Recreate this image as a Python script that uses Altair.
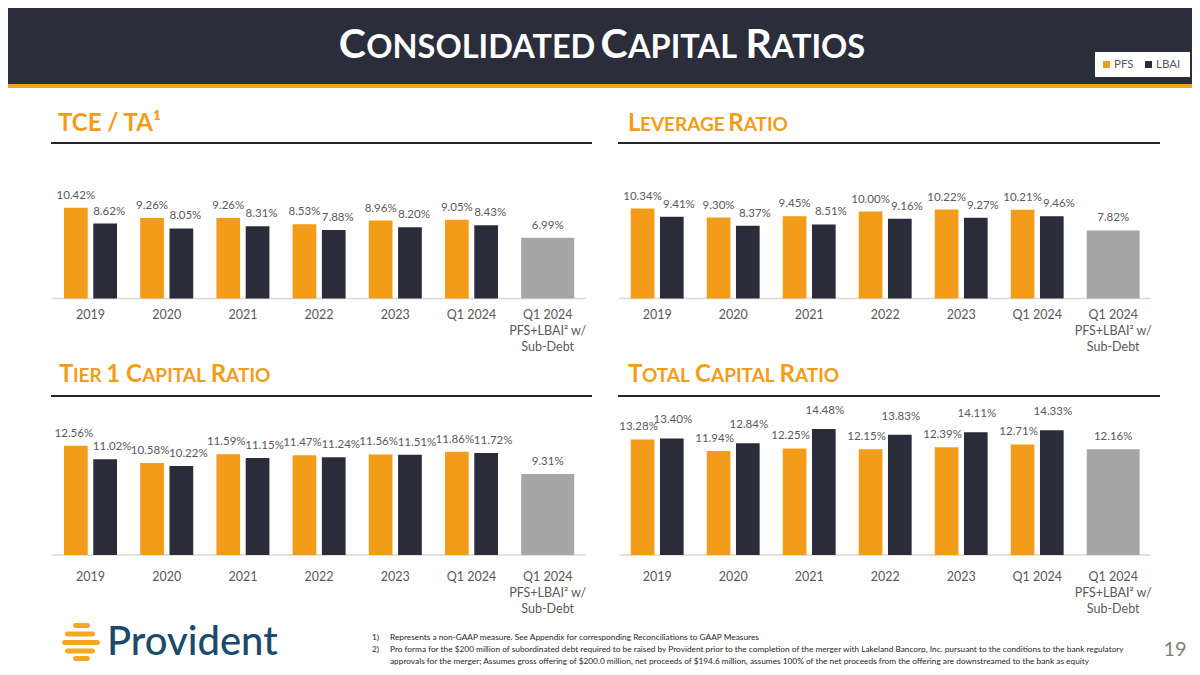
import altair as alt
import pandas as pd

# ---------------- data ----------------
categories = ["2019", "2020", "2021", "2022", "2023", "Q1 2024", "Q1 2024\nPFS+LBAI² w/\nSub-Debt"]
series = ["PFS", "LBAI"]

tce_pfs = [10.42, 9.26, 9.26, 8.53, 8.96, 9.05]
tce_lbai = [8.62, 8.05, 8.31, 7.88, 8.20, 8.43]
tce_pro = 6.99

lev_pfs = [10.34, 9.30, 9.45, 10.00, 10.22, 10.21]
lev_lbai = [9.41, 8.37, 8.51, 9.16, 9.27, 9.46]
lev_pro = 7.82

t1_pfs = [12.56, 10.58, 11.59, 11.47, 11.56, 11.86]
t1_lbai = [11.02, 10.22, 11.15, 11.24, 11.51, 11.72]
t1_pro = 9.31

tc_pfs = [13.28, 11.94, 12.25, 12.15, 12.39, 12.71]
tc_lbai = [13.40, 12.84, 14.48, 13.83, 14.11, 14.33]
tc_pro = 12.16

footnotes = [
    ("1)", "Represents a non-GAAP measure. See Appendix for corresponding Reconciliations to GAAP Measures"),
    ("2)", "Pro forma for the $200 million of subordinated debt required to be raised by Provident prior to the completion of the merger with Lakeland Bancorp, Inc. pursuant to the conditions to the bank regulatory"),
    ("", "approvals for the merger; Assumes gross offering of $200.0 million, net proceeds of $194.6 million, assumes 100% of the net proceeds from the offering are downstreamed to the bank as equity"),
]

# ---------------- style ----------------
FONT = "Lato"
ORANGE = "#F39C1A"
DARK = "#2B2C3A"
GRAY = "#A6A6A6"
HEADER = "#2B2D3B"
LABEL = "#595959"
W, H = 1184, 659
PX = 8.7  # pixels per percentage point
HALF = 14.65  # half distance between the two bar centres of a pair

ONE = pd.DataFrame({"a": [0]})


def rect(x, x2, y, y2, color, **kw):
    return alt.Chart(ONE).mark_rect(color=color, **kw).encode(
        x=alt.value(x), x2=alt.value(x2), y=alt.value(y), y2=alt.value(y2))


def rule(x, x2, y, color, width):
    return alt.Chart(ONE).mark_rule(color=color, strokeWidth=width).encode(
        x=alt.value(x), x2=alt.value(x2), y=alt.value(y))


def text(t, x, y, size, color, align="left", baseline="alphabetic", weight="normal"):
    return alt.Chart(ONE).mark_text(text=t, align=align, baseline=baseline, fontSize=size,
                                    color=color, fontWeight=weight, font=FONT).encode(
        x=alt.value(x), y=alt.value(y))


# approximate Lato Bold advance widths (em)
WID = {"A": .68, "B": .65, "C": .67, "D": .74, "E": .56, "G": .72, "I": .30, "L": .50,
       "N": .76, "O": .78, "P": .62, "R": .64, "S": .54, "T": .58, "V": .68, "1": .58,
       " ": .25, "/": .40, "¹": .36}


def small_caps(s, x, y, big, small, color, center=False):
    runs = []
    cls = "big"
    for ch in s:
        c = cls if ch == " " else ("small" if ch.islower() else "big")
        if runs and runs[-1][0] == c:
            runs[-1][1] += ch
        else:
            runs.append([c, ch])
        cls = c
    widths = []
    for c, t in runs:
        sz = big if c == "big" else small
        widths.append(sum(WID.get(ch.upper(), .6) for ch in t) * sz)
    total = sum(widths)
    cx = x - total / 2 if center else x
    layers = []
    for (c, t), w in zip(runs, widths):
        sz = big if c == "big" else small
        if t.strip():
            layers.append(text(t.upper(), cx, y, sz, color, weight="bold"))
        cx += w
    return layers


def panel(pfs, lbai, pro, x0, x1, base, lab_top, pfs_dx=0, lbai_dx=0, lbai_dy=-12):
    xs = dict(domain=categories, range=[x0, x1], paddingInner=0.304, paddingOuter=0.152)
    ys = dict(domain=[0, 20], range=[base, base - 20 * PX])

    def X():
        return alt.X("category:N", scale=alt.Scale(**xs), axis=None)

    def Y():
        return alt.Y("value:Q", scale=alt.Scale(**ys), axis=None)

    xo = alt.XOffset("series:N", scale=alt.Scale(domain=series, paddingInner=0.19, paddingOuter=0))
    col = alt.Color("series:N", scale=alt.Scale(domain=series, range=[ORANGE, DARK]), legend=None)
    pair = pd.DataFrame({"category": categories[:6] * 2,
                         "series": ["PFS"] * 6 + ["LBAI"] * 6,
                         "value": pfs + lbai})
    pfs_df = pd.DataFrame({"category": categories[:6], "value": pfs})
    lbai_df = pd.DataFrame({"category": categories[:6], "value": lbai})
    prodf = pd.DataFrame({"category": [categories[6]], "value": [pro]})
    fmt = "format(datum.value, '.2f') + '%'"

    def labels(df, dx, dy=-12):
        return alt.Chart(df).transform_calculate(label=fmt).mark_text(
            dy=dy, dx=dx, fontSize=11.5, color=LABEL, font=FONT, baseline="middle").encode(
            x=X(), y=Y(), text="label:N")

    bars = alt.Chart(pair).mark_bar().encode(x=X(), xOffset=xo, y=Y(), color=col)
    gbar = alt.Chart(prodf).mark_bar(color=GRAY).encode(x=X(), y=Y())
    cats = alt.Chart(pd.DataFrame({"category": categories})).mark_text(
        baseline="top", lineBreak="\n", lineHeight=16, fontSize=12.5, color=LABEL, font=FONT).encode(
        x=X(), y=alt.value(lab_top), text="category:N")
    brule = rule(x0, x1, base, "#D9D9D9", 1.5)
    return [brule, bars, gbar,
            labels(pfs_df, -HALF + pfs_dx), labels(lbai_df, HALF + lbai_dx, lbai_dy),
            labels(prodf, 0), cats]


layers = []
# header
layers.append(rect(0, W, 0, 76, HEADER))
layers.append(rect(0, W, 76, 80, "#F4A11F"))
layers += small_caps("Consolidated Capital Ratios", 594, 50, 41, 32.5, "white", center=True)
# legend
layers.append(rect(1087, 1182, 44, 69, "white"))
layers.append(rect(1095, 1102, 53, 60, ORANGE))
layers.append(text("PFS", 1106, 57, 11.5, LABEL, baseline="middle"))
layers.append(rect(1137, 1144, 53, 60, DARK))
layers.append(text("LBAI", 1148, 57, 11.5, LABEL, baseline="middle"))

# panel titles and underlines
layers += small_caps("TCE / TA¹", 50, 123, 24, 19, ORANGE)
layers += small_caps("Leverage Ratio", 620, 123, 24, 19, ORANGE)
layers += small_caps("Tier 1 Capital Ratio", 51, 374, 24, 19, ORANGE)
layers += small_caps("Total Capital Ratio", 620, 374, 24, 19, ORANGE)
layers.append(rule(43, 584, 135, "#262626", 2))
layers.append(rule(610, 1152, 135, "#262626", 2))
layers.append(rule(43, 584, 388, "#262626", 2))
layers.append(rule(610, 1152, 388, "#262626", 2))

# panels
LX0, LX1 = 44.4, 577.8
RX0, RX1 = 611.2, 1143.2
TB, BB = 290.5, 547
layers += panel(tce_pfs, tce_lbai, tce_pro, LX0, LX1, TB, TB + 10, 0, 4)
layers += panel(lev_pfs, lev_lbai, lev_pro, RX0, RX1, TB, TB + 10, 0, 7)
layers += panel(t1_pfs, t1_lbai, t1_pro, LX0, LX1, BB, BB + 16, -2, 7)
layers += panel(tc_pfs, tc_lbai, tc_pro, RX0, RX1, BB, BB + 16, -4, 1, -18)

# footer: logo
for (xa, xb, ya, yb) in [(65, 82, 615, 620), (57, 87, 623.5, 628.5), (54, 92, 632, 637),
                         (57, 87, 640.5, 645.5), (65, 82, 648, 653)]:
    layers.append(rect(xa, xb, ya, yb, "#F5A623", cornerRadius=2.5))
layers.append(text("Provident", 99, 647, 40, "#1B4A6B", weight=500))

# footnotes
for i, (num, t) in enumerate(footnotes):
    yy = 630 + 12 * i
    if num:
        layers.append(text(num, 364, yy, 8.3, "#262626", baseline="middle"))
    layers.append(text(t, 382, yy, 8.3, "#262626", baseline="middle"))

layers.append(text("19", 1167, 642, 20, "#7F7F7F", align="center", baseline="middle"))

chart = alt.layer(*layers).resolve_scale(
    x="independent", y="independent", xOffset="independent", color="independent"
).properties(
    width=W, height=H, padding=0, autosize=alt.AutoSizeParams(type="none"),
    background="white"
).configure_view(stroke=None)

chart.save("out.html", embed_options={"renderer": "svg", "actions": False})
